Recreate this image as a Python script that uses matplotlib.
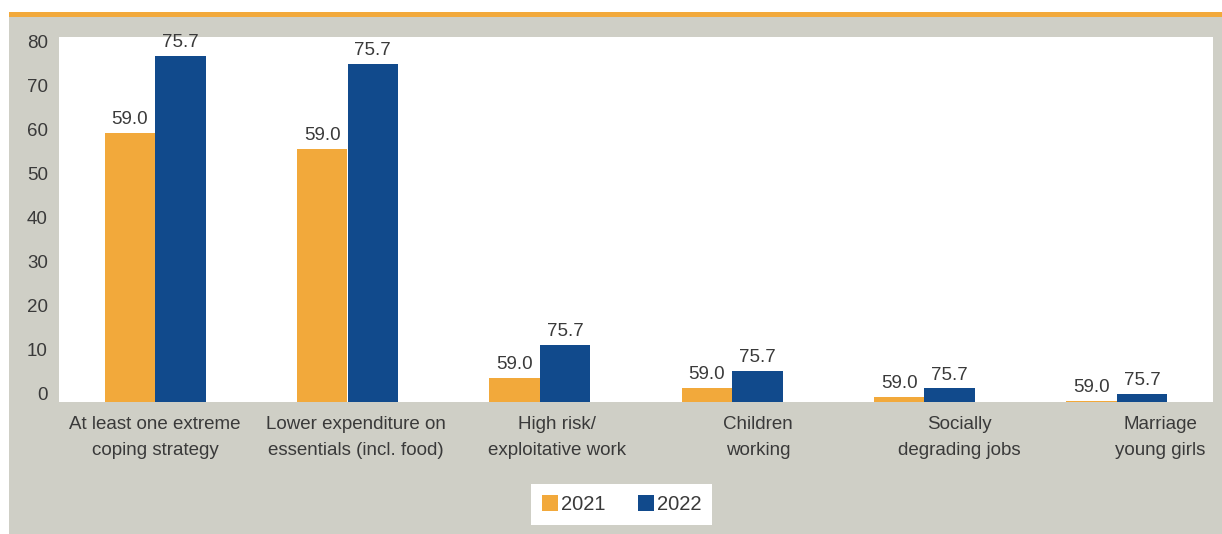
import matplotlib
matplotlib.use("Agg")
import matplotlib.pyplot as plt
import numpy as np
from matplotlib.patches import Rectangle

plt.rcParams['font.family'] = ['Liberation Sans', 'DejaVu Sans']

# coping strategies, share of households (%)
categories = [
    "At least one extreme\ncoping strategy",
    "Lower expenditure on\nessentials (incl. food)",
    "High risk/\nexploitative work",
    "Children\nworking",
    "Socially\ndegrading jobs",
    "Marriage\nyoung girls",
]
years = ["2021", "2022"]
values_2021 = [59.0, 55.4, 5.3, 3.1, 1.0, 0.2]
values_2022 = [75.7, 74.0, 12.4, 6.7, 2.9, 1.7]
# value labels as printed above the bars
labels_2021 = ["59.0"] * 6
labels_2022 = ["75.7"] * 6
yticks = [0, 10, 20, 30, 40, 50, 60, 70, 80]

orange = "#f2a93b"
blue = "#114a8c"
grey_bg = "#cfcfc6"
text_col = "#3a3a3a"

fig = plt.figure(figsize=(12.22, 5.34), dpi=100)
fig.patch.set_facecolor("white")

# grey panel and orange rule on top
fig.patches.append(Rectangle((9 / 1222, 0), 1 - 9 / 1222, 1 - 17 / 534,
                             transform=fig.transFigure, facecolor=grey_bg,
                             edgecolor="none", zorder=-2))
fig.patches.append(Rectangle((9 / 1222, 1 - 17 / 534), 1 - 9 / 1222, 5.5 / 534,
                             transform=fig.transFigure, facecolor=orange,
                             edgecolor="none", zorder=-2))

ax = fig.add_axes([59 / 1222, 132.3 / 534, (1213 - 59) / 1222, 365 / 534])
ax.set_facecolor("white")

x = np.arange(len(categories))
w = 0.262
b1 = ax.bar(x - w / 2, values_2021, w, color=orange, label=years[0])
b2 = ax.bar(x + w / 2, values_2022, w, color=blue, label=years[1])

for bars, labs in ((b1, labels_2021), (b2, labels_2022)):
    for bar, lab in zip(bars, labs):
        ax.annotate(lab, (bar.get_x() + bar.get_width() / 2, bar.get_height()),
                    xytext=(0, 3.5), textcoords="offset points",
                    ha="center", va="bottom", fontsize=13.5, color=text_col)

ax.set_xlim(-0.5, len(categories) - 0.5)
ax.set_ylim(0, 80)
# the axis labels in this layout sit on a slightly wider / tighter grid than the bars
ax.set_yticks([1.8 + 0.963 * t for t in yticks])
ax.set_yticklabels([str(t) for t in yticks])
ax.set_xticks(x * 1.045)
ax.set_xticklabels(categories, linespacing=1.75)
ax.tick_params(axis="both", length=0, labelsize=13.5, labelcolor=text_col)
ax.tick_params(axis="y", pad=8)
ax.tick_params(axis="x", pad=10)
for s in ax.spines.values():
    s.set_visible(False)

leg = fig.legend(loc="center", bbox_to_anchor=(621.5 / 1222, 1 - 504.5 / 534),
                 ncol=2, frameon=True, fancybox=False, fontsize=14.5,
                 handlelength=0.8, handleheight=0.8, handletextpad=0.15,
                 columnspacing=1.6, borderpad=0.55, labelcolor=text_col)
leg.get_frame().set_facecolor("white")
leg.get_frame().set_edgecolor("none")
leg.get_frame().set_alpha(1)

fig.savefig("out.png", dpi=100, facecolor=fig.get_facecolor())
